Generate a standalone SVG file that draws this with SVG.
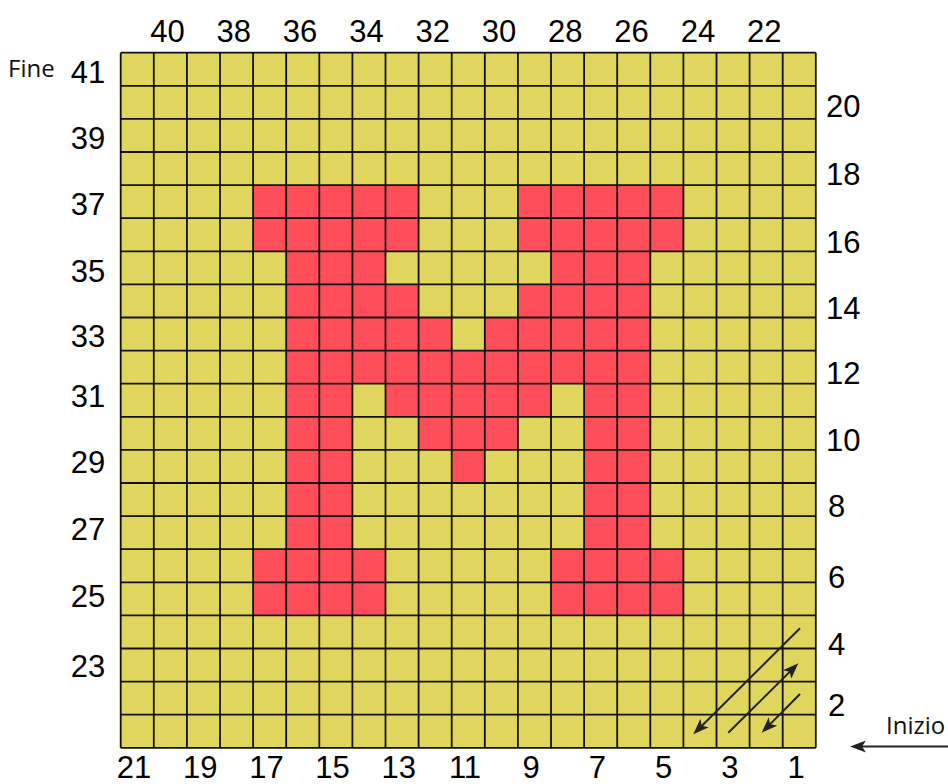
<svg xmlns="http://www.w3.org/2000/svg" width="948" height="784" viewBox="0 0 948 784">
<style>
.num{font-family:"Liberation Sans",Arial,sans-serif;font-size:31px;fill:#000}
.mid{text-anchor:middle}
.word{font-family:"Open Sans","Noto Sans",sans-serif;font-size:24px;fill:#111}
.red{fill:#FF4E5A}
.grid{fill:none;stroke:#111;stroke-width:1.8}
.arr{fill:none;stroke:#222;stroke-width:2}
</style>
<defs>
<marker id="ah" viewBox="0 0 16 12" refX="12" refY="6" markerWidth="16" markerHeight="12" markerUnits="userSpaceOnUse" orient="auto">
<path d="M0,0 L16,6 L0,12 L4,6 z" fill="#222"/>
</marker>
</defs>
<rect width="948" height="784" fill="#fff"/>
<g id="board">
<rect x="120.7" y="52.7" width="695.1" height="695.1" fill="#E0D65E"/>
<g id="letter">
<rect class="red" x="253.1" y="185.1" width="165.5" height="66.2"/>
<rect class="red" x="517.9" y="185.1" width="165.5" height="66.2"/>
<rect class="red" x="286.2" y="251.3" width="99.3" height="33.1"/>
<rect class="red" x="551" y="251.3" width="99.3" height="33.1"/>
<rect class="red" x="286.2" y="284.4" width="132.4" height="33.1"/>
<rect class="red" x="517.9" y="284.4" width="132.4" height="33.1"/>
<rect class="red" x="286.2" y="317.5" width="165.5" height="33.1"/>
<rect class="red" x="484.8" y="317.5" width="165.5" height="33.1"/>
<rect class="red" x="286.2" y="350.6" width="364.1" height="33.1"/>
<rect class="red" x="385.5" y="383.7" width="165.5" height="33.1"/>
<rect class="red" x="418.6" y="416.8" width="99.3" height="33.1"/>
<rect class="red" x="451.7" y="449.9" width="33.1" height="33.1"/>
<rect class="red" x="286.2" y="185.1" width="66.2" height="430.3"/>
<rect class="red" x="584.1" y="185.1" width="66.2" height="430.3"/>
<rect class="red" x="253.1" y="549.2" width="132.4" height="66.2"/>
<rect class="red" x="551" y="549.2" width="132.4" height="66.2"/>
</g>
<path class="grid" d="M120.7,52.7V747.8M153.8,52.7V747.8M186.9,52.7V747.8M220,52.7V747.8M253.1,52.7V747.8M286.2,52.7V747.8M319.3,52.7V747.8M352.4,52.7V747.8M385.5,52.7V747.8M418.6,52.7V747.8M451.7,52.7V747.8M484.8,52.7V747.8M517.9,52.7V747.8M551,52.7V747.8M584.1,52.7V747.8M617.2,52.7V747.8M650.3,52.7V747.8M683.4,52.7V747.8M716.5,52.7V747.8M749.6,52.7V747.8M782.7,52.7V747.8M815.8,52.7V747.8
M120.7,52.7H815.8M120.7,85.8H815.8M120.7,118.9H815.8M120.7,152H815.8M120.7,185.1H815.8M120.7,218.2H815.8M120.7,251.3H815.8M120.7,284.4H815.8M120.7,317.5H815.8M120.7,350.6H815.8M120.7,383.7H815.8M120.7,416.8H815.8M120.7,449.9H815.8M120.7,483H815.8M120.7,516.1H815.8M120.7,549.2H815.8M120.7,582.3H815.8M120.7,615.4H815.8M120.7,648.5H815.8M120.7,681.6H815.8M120.7,714.7H815.8M120.7,747.8H815.8"/>
</g>
<g id="top-labels" class="num mid">
<text x="167.5" y="41.7">40</text>
<text x="233.8" y="41.7">38</text>
<text x="300.1" y="41.7">36</text>
<text x="366.4" y="41.7">34</text>
<text x="432.7" y="41.7">32</text>
<text x="499" y="41.7">30</text>
<text x="565.3" y="41.7">28</text>
<text x="631.6" y="41.7">26</text>
<text x="697.9" y="41.7">24</text>
<text x="764.2" y="41.7">22</text>
</g>
<g id="left-labels" class="num mid">
<text x="88" y="82.7">41</text>
<text x="88" y="148.5">39</text>
<text x="88" y="214.5">37</text>
<text x="88" y="282">35</text>
<text x="88" y="347">33</text>
<text x="88" y="406.7">31</text>
<text x="88" y="473">29</text>
<text x="88" y="539.5">27</text>
<text x="88" y="607">25</text>
<text x="88" y="677">23</text>
</g>
<g id="right-labels" class="num">
<text x="826" y="116.7">20</text>
<text x="826" y="185">18</text>
<text x="826" y="253">16</text>
<text x="826" y="319">14</text>
<text x="826" y="384">12</text>
<text x="826" y="450.7">10</text>
<text x="828" y="517">8</text>
<text x="828" y="588">6</text>
<text x="828" y="655">4</text>
<text x="828" y="716">2</text>
</g>
<g id="bottom-labels" class="num mid">
<text x="134" y="777.5">21</text>
<text x="200.2" y="777.5">19</text>
<text x="266.4" y="777.5">17</text>
<text x="332.6" y="777.5">15</text>
<text x="398.8" y="777.5">13</text>
<text x="465" y="777.5">11</text>
<text x="531.2" y="777.5">9</text>
<text x="597.4" y="777.5">7</text>
<text x="663.6" y="777.5">5</text>
<text x="729.8" y="777.5">3</text>
<text x="796" y="777.5">1</text>
</g>
<g id="fine"><text class="word" x="8" y="76.7">Fine</text></g>
<g id="inizio"><text class="word" x="886" y="734.3">Inizio</text></g>
<g id="connectors">
<line class="arr" x1="800" y1="628.3" x2="696.1" y2="731.5" marker-end="url(#ah)"/>
<line class="arr" x1="728.3" y1="732.7" x2="795.5" y2="666.1" marker-end="url(#ah)"/>
<line class="arr" x1="800" y1="694" x2="764.5" y2="729.9" marker-end="url(#ah)"/>
<line class="arr" x1="948" y1="746.5" x2="854" y2="746.5" stroke-width="1.6" marker-end="url(#ah)"/>
</g>
</svg>
